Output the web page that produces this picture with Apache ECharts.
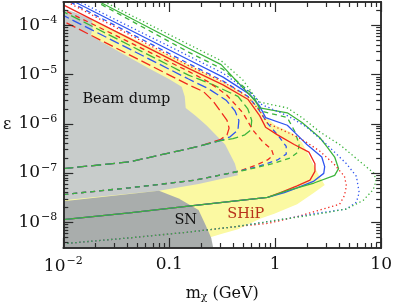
<!DOCTYPE html>
<html><head><meta charset="utf-8">
<script src="https://cdn.jsdelivr.net/npm/echarts@6/dist/echarts.min.js"></script>
<style>html,body{margin:0;padding:0;background:#fff}#c{width:395px;height:308px}</style>
</head><body><div id="c"></div>
<script>
// ---- tick values ----
const xMajor = [0.01, 0.1, 1, 10];
const xMinor = [0.02,0.03,0.04,0.05,0.06,0.07,0.08,0.09,0.2,0.3,0.4,0.5,0.6,0.7,0.8,0.9,2,3,4,5,6,7,8,9];
const yMajor = [1e-8, 1e-7, 1e-6, 1e-5, 1e-4];
const yMinor = [4e-9,5e-9,6e-9,7e-9,8e-9,9e-9,2e-8,3e-8,4e-8,5e-8,6e-8,7e-8,8e-8,9e-8,2e-7,3e-7,4e-7,5e-7,6e-7,7e-7,8e-7,9e-7,
  2e-6,3e-6,4e-6,5e-6,6e-6,7e-6,8e-6,9e-6,2e-5,3e-5,4e-5,5e-5,6e-5,7e-5,8e-5,9e-5,2e-4];

// ---- shaded regions [m (GeV), epsilon] ----
const shipRegion = [[0.0186,1.33e-4],[0.042,5.92e-5],[0.0992,2.52e-5],[0.189,1.28e-5],[0.359,6.22e-6],[0.614,3.17e-6],[0.76,1.61e-6],[1.0,9.38e-7],[1.45,6.54e-7],[1.79,4.17e-7],[2.22,1.69e-7],[2.58,9.0e-8],[2.93,5.74e-8],[2.32,4.0e-8],[1.61,2.33e-8],[0.98,1.49e-8],[0.728,1.19e-8],[0.445,7.22e-9],[0.309,5.77e-9],[0.249,5.04e-9],[0.189,4.2e-9],[0.01,4.2e-9],[0.01,8.5e-5]];
const beamDump = [[0.01,2.19e-4],[0.0129,1.83e-4],[0.0186,1.33e-4],[0.019,9.3e-5],[0.0182,6.19e-5],[0.034,2.88e-5],[0.0646,1.34e-5],[0.0992,8.16e-6],[0.131,5.69e-6],[0.140,3.62e-6],[0.143,2.11e-6],[0.177,1.47e-6],[0.224,9.38e-7],[0.337,3.81e-7],[0.417,1.55e-7],[0.445,9.01e-8],[0.189,6.0e-8],[0.080,4.38e-8],[0.01,2.79e-8]];
const snRegion = [[0.01,2.67e-8],[0.08,4.38e-8],[0.123,3.05e-8],[0.189,1.78e-8],[0.219,9.05e-9],[0.249,4.81e-9],[0.26,3e-9],[0.01,3e-9]];

// ---- sensitivity contours ----
const redLong = [[0.01,1.23e-7],[0.042,1.69e-7],[0.189,3.48e-7],[0.302,4.77e-7],[0.351,5.98e-7],[0.367,8.19e-7],[0.351,1.18e-6],[0.302,1.84e-6],[0.26,2.89e-6],[0.21,4.54e-6],[0.152,6.22e-6],[0.01,1.22e-4]];
const blueLong = [[0.01,1.23e-7],[0.042,1.69e-7],[0.189,3.48e-7],[0.302,4.56e-7],[0.375,5.46e-7],[0.445,7.49e-7],[0.454,1.18e-6],[0.417,1.84e-6],[0.344,3.03e-6],[0.234,5.2e-6],[0.152,8.16e-6],[0.01,1.6e-4]];
const greenLong = [[0.01,1.23e-7],[0.042,1.69e-7],[0.189,3.48e-7],[0.302,4.56e-7],[0.40,4.99e-7],[0.517,5.98e-7],[0.588,7.49e-7],[0.60,1.18e-6],[0.551,2.02e-6],[0.445,3.62e-6],[0.26,6.22e-6],[0.152,9.77e-6],[0.01,1.91e-4]];
const redMedium = [[0.01,3.66e-8],[0.042,5.01e-8],[0.177,7.19e-8],[0.445,1.08e-7],[0.64,1.41e-7],[0.846,1.85e-7],[0.962,2.32e-7],[0.922,3.04e-7],[0.76,4.36e-7],[0.614,7.49e-7],[0.495,1.68e-6],[0.344,3.97e-6],[0.234,7.12e-6],[0.152,1.17e-5],[0.01,2.09e-4]];
const blueMedium = [[0.01,3.66e-8],[0.042,5.01e-8],[0.177,7.19e-8],[0.445,1.08e-7],[0.683,1.35e-7],[1.05,1.85e-7],[1.27,2.43e-7],[1.27,3.48e-7],[1.09,5.46e-7],[0.846,1.03e-6],[0.683,2.11e-6],[0.551,3.62e-6],[0.322,7.45e-6],[0.152,1.68e-5],[0.0116,3e-4]];
const greenMedium = [[0.01,3.66e-8],[0.042,5.01e-8],[0.177,7.19e-8],[0.445,1.08e-7],[0.551,1.18e-7],[0.942,1.55e-7],[1.39,2.03e-7],[1.64,2.66e-7],[1.68,3.81e-7],[1.54,6.84e-7],[1.30,1.34e-6],[0.728,1.84e-6],[0.614,3.97e-6],[0.322,1.28e-5],[0.152,2.88e-5],[0.0207,3e-4]];
const redSolid = [[0.01,1.13e-8],[0.042,1.55e-8],[0.152,2.13e-8],[0.846,3.2e-8],[1.12,4.0e-8],[1.61,5.48e-8],[2.13,7.19e-8],[2.37,1.08e-7],[2.37,1.55e-7],[2.08,2.66e-7],[1.51,3.81e-7],[1.05,5.98e-7],[0.811,8.57e-7],[0.713,1.47e-6],[0.551,3.17e-6],[0.322,6.22e-6],[0.152,1.34e-5],[0.01,2.62e-4]];
const blueSolid = [[0.01,1.13e-8],[0.042,1.55e-8],[0.152,2.13e-8],[0.846,3.2e-8],[1.22,4.0e-8],[1.61,5.01e-8],[2.32,6.87e-8],[2.87,9.86e-8],[2.93,1.35e-7],[2.75,2.12e-7],[1.99,3.81e-7],[1.61,5.98e-7],[1.30,9.38e-7],[0.811,1.34e-6],[0.713,2.31e-6],[0.575,3.97e-6],[0.322,8.93e-6],[0.152,2.01e-5],[0.0129,3e-4]];
const greenSolid = [[0.01,1.13e-8],[0.042,1.55e-8],[0.152,2.13e-8],[0.846,3.2e-8],[1.30,4.38e-8],[2.32,6.28e-8],[3.64,9.01e-8],[3.96,1.23e-7],[3.64,2.12e-7],[3.06,3.48e-7],[2.64,5.22e-7],[1.79,1.07e-6],[1.30,1.68e-6],[0.713,2.11e-6],[0.64,3.03e-6],[0.309,1.6e-5],[0.152,3.45e-5],[0.0221,3e-4]];
const redDotted = [[0.01,3.67e-9],[0.042,4.81e-9],[0.152,6.31e-9],[0.445,8.27e-9],[0.846,9.47e-9],[1.61,1.3e-8],[2.64,1.78e-8],[4.05,2.33e-8],[4.5,3.5e-8],[4.7,5.48e-8],[4.5,8.61e-8],[3.56,1.55e-7],[2.64,2.78e-7],[1.99,4.17e-7],[1.61,5.46e-7],[1.17,7.49e-7],[0.846,1.03e-6],[0.713,1.84e-6],[0.551,3.62e-6],[0.322,7.12e-6],[0.152,1.53e-5],[0.0109,3e-4]];
const blueDotted = [[0.01,3.67e-9],[0.042,4.81e-9],[0.152,6.31e-9],[0.445,8.27e-9],[1.30,1.19e-8],[2.32,1.49e-8],[4.7,1.86e-8],[5.83,2.55e-8],[6.2,4.0e-8],[5.83,8.61e-8],[4.7,1.55e-7],[3.06,3.81e-7],[1.99,8.57e-7],[1.30,1.47e-6],[0.728,2.53e-6],[0.614,3.97e-6],[0.322,1.07e-5],[0.152,2.41e-5],[0.0144,3e-4]];
const greenDotted = [[0.01,3.67e-9],[0.042,4.81e-9],[0.152,6.31e-9],[0.445,8.27e-9],[1.12,1.13e-8],[2.32,1.42e-8],[4.7,1.86e-8],[6.77,2.79e-8],[8.39,4.58e-8],[8.95,6.87e-8],[8.57,9.86e-8],[6.2,1.77e-7],[4.05,3.81e-7],[2.64,6.84e-7],[1.79,1.34e-6],[1.30,2.11e-6],[0.713,2.77e-6],[0.64,3.62e-6],[0.495,7.8e-6],[0.309,1.92e-5],[0.152,4.13e-5],[0.0246,3e-4]];

// ---- text annotations ----
const notes = [
  {text:'Beam dump', m:0.0394, eps:3.17e-6, color:'#111111'},
  {text:'SN', m:0.143, eps:1.08e-8, color:'#111111'},
  {text:'SHiP', m:0.528, eps:1.49e-8, color:'#b8321a'}
];

const FONT = 'DejaVu Serif';
const COLORS = {red:'#f0281e', blue:'#2f55f0', green:'#3db43c'};
const DASHES = {long:[10,4], medium:[5,4], solid:'solid', dotted:[1.3,2.7]};
const contours = [
  [redLong,'red','long'],[blueLong,'blue','long'],[greenLong,'green','long'],
  [redMedium,'red','medium'],[blueMedium,'blue','medium'],[greenMedium,'green','medium'],
  [redSolid,'red','solid'],[blueSolid,'blue','solid'],[greenSolid,'green','solid'],
  [redDotted,'red','dotted'],[blueDotted,'blue','dotted'],[greenDotted,'green','dotted']
];

const AX = '#2a2a2a';
function xLabel(v){
  const e = Math.round(Math.log10(v));
  if (e === -2) return '{b|10}{s|\u22122}';
  if (e === -1) return '{b|0.1}';
  if (e === 0) return '{b|1}';
  return '{b|10}';
}
function yLabel(v){
  const e = Math.round(Math.log10(v));
  return '{b|10}{s|\u2212' + (-e) + '}';
}
const rich = {
  b:{fontFamily:FONT, fontSize:17, color:'#111'},
  s:{fontFamily:FONT, fontSize:11, color:'#111', padding:[0,0,10,1]}
};
function xAxis(pos, vals, len, withLabel){
  const a = {type:'log', logBase:10, min:0.01, max:10, position:pos, z:10, gridIndex:0,
    axisLine:{show:true, onZero:false, lineStyle:{color:AX, width:1.5}},
    axisTick:{show:true, inside:true, length:len, customValues:vals, lineStyle:{color:AX, width:1.2}},
    minorTick:{show:false}, splitLine:{show:false},
    axisLabel:{show:false}};
  if (withLabel){
    a.axisLabel = {show:true, customValues:xMajor, margin:8, formatter:xLabel, rich:rich};
    a.name = '{a|m}{c|\u03c7}{a| (GeV)}';
    a.nameLocation = 'middle'; a.nameGap = 37;
    a.nameTextStyle = {rich:{a:{fontFamily:FONT, fontSize:16, color:'#111'}, c:{fontFamily:FONT, fontSize:11, color:'#111', padding:[7,0,0,0]}}};
  }
  return a;
}
function yAxis(pos, vals, len, withLabel){
  const a = {type:'log', logBase:10, min:3e-9, max:3e-4, position:pos, z:10, gridIndex:0,
    axisLine:{show:true, onZero:false, lineStyle:{color:AX, width:1.5}},
    axisTick:{show:true, inside:true, length:len, customValues:vals, lineStyle:{color:AX, width:1.2}},
    minorTick:{show:false}, splitLine:{show:false},
    axisLabel:{show:false}};
  if (withLabel){
    a.axisLabel = {show:true, customValues:yMajor, margin:6, formatter:yLabel, rich:rich};
    a.name = '\u03b5'; a.nameLocation = 'middle'; a.nameRotate = 0; a.nameGap = 52;
    a.nameTextStyle = {fontFamily:FONT, fontSize:16, color:'#111'};
  }
  return a;
}

function region(pts, fill, z){
  return {type:'custom', coordinateSystem:'cartesian2d', xAxisIndex:0, yAxisIndex:0, z:z, silent:true, clip:true,
    data:[[0.1,1e-6]],
    renderItem:function(params, api){
      return {type:'polygon', shape:{points:pts.map(p=>api.coord(p))}, style:{fill:fill}};
    }};
}

const series = [
  region(shipRegion, '#fbf9a2', 1),
  region(beamDump, '#c8cccb', 2),
  region(snRegion, '#a9adac', 3)
];
contours.forEach(function(c){
  series.push({type:'line', xAxisIndex:0, yAxisIndex:0, z:5, silent:true, showSymbol:false, symbol:'none',
    data:c[0], clip:true, animation:false,
    lineStyle:{color:COLORS[c[1]], width:1.3, type:DASHES[c[2]], cap:'butt'}});
});
series.push({type:'custom', coordinateSystem:'cartesian2d', xAxisIndex:0, yAxisIndex:0, z:6, silent:true,
  data:notes.map(n=>[n.m, n.eps]),
  renderItem:function(params, api){
    const n = notes[params.dataIndex];
    const p = api.coord([n.m, n.eps]);
    return {type:'text', x:p[0], y:p[1], style:{text:n.text, fill:n.color, fontFamily:FONT, fontSize:14.5, align:'center', verticalAlign:'middle'}};
  }});

const chart = echarts.init(document.getElementById('c'), null, {renderer:'canvas'});
chart.setOption({
  animation:false,
  backgroundColor:'#ffffff',
  grid:{left:63, right:10, top:2, bottom:50, containLabel:false},
  xAxis:[xAxis('bottom', xMajor, 10, true), xAxis('bottom', xMinor, 5, false), xAxis('top', xMajor, 10, false), xAxis('top', xMinor, 5, false)],
  yAxis:[yAxis('left', yMajor, 10, true), yAxis('left', yMinor, 5, false), yAxis('right', yMajor, 10, false), yAxis('right', yMinor, 5, false)],
  series:series
});
</script></body></html>
